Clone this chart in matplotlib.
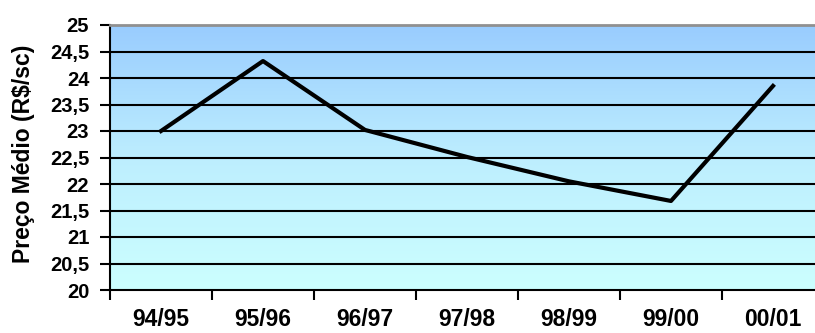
import matplotlib
import numpy as np
import matplotlib.pyplot as plt
from matplotlib.colors import LinearSegmentedColormap

matplotlib.rcParams['font.family'] = 'Liberation Sans'
matplotlib.rcParams['font.weight'] = 'bold'
matplotlib.rcParams['font.size'] = 14

safras = ['94/95', '95/96', '96/97', '97/98', '98/99', '99/00', '00/01']
preco = [23.0, 24.32, 23.02, 22.51, 22.05, 21.68, 23.85]
yticks = np.arange(20, 25.01, 0.5)
ylabels = ['20', '20,5', '21', '21,5', '22', '22,5', '23', '23,5', '24', '24,5', '25']

fig = plt.figure(figsize=(8.15, 3.33), dpi=100)
ax = fig.add_axes([110/815, 1 - 290/333, 714/815, 265/333])

# fundo em degrade azul
cmap = LinearSegmentedColormap.from_list('fundo', ['#CCFFFF', '#BDEEFE', '#99CCFF'])
grad = np.linspace(0, 1, 256).reshape(-1, 1)
ax.imshow(grad, aspect='auto', cmap=cmap, origin='lower',
          extent=[0, len(safras), 20, 25], zorder=0)

for y in yticks[1:-1]:
    ax.axhline(y, color='k', linewidth=1.5, zorder=1)

x = np.arange(len(safras)) + 0.5
ax.plot(x, preco, color='k', linewidth=3, zorder=3)

ax.set_xlim(0, len(safras))
ax.set_ylim(20, 25)
ax.set_yticks(yticks)
ax.set_yticklabels(ylabels, fontsize=14.5)
ax.set_xticks(np.arange(len(safras) + 1))
ax.set_xticklabels([])
ax.set_xticks(x, minor=True)
ax.set_xticklabels(safras, minor=True, fontsize=16.5)
ax.tick_params(axis='x', which='major', direction='out', length=7, width=1.5)
ax.tick_params(axis='x', which='minor', length=0, pad=13)
ax.tick_params(axis='y', direction='out', length=7, width=1.5, pad=8)

ax.spines['left'].set_linewidth(1.5)
ax.spines['bottom'].set_linewidth(1.5)
ax.spines['top'].set_color('#909090')
ax.spines['top'].set_linewidth(2)
ax.spines['right'].set_visible(False)

ax.set_ylabel('Preço Médio (R$/sc)', fontsize=16.5, fontweight='bold')
ax.yaxis.set_label_coords(-75/714, 0.515)

plt.savefig('out.png', dpi=100)
